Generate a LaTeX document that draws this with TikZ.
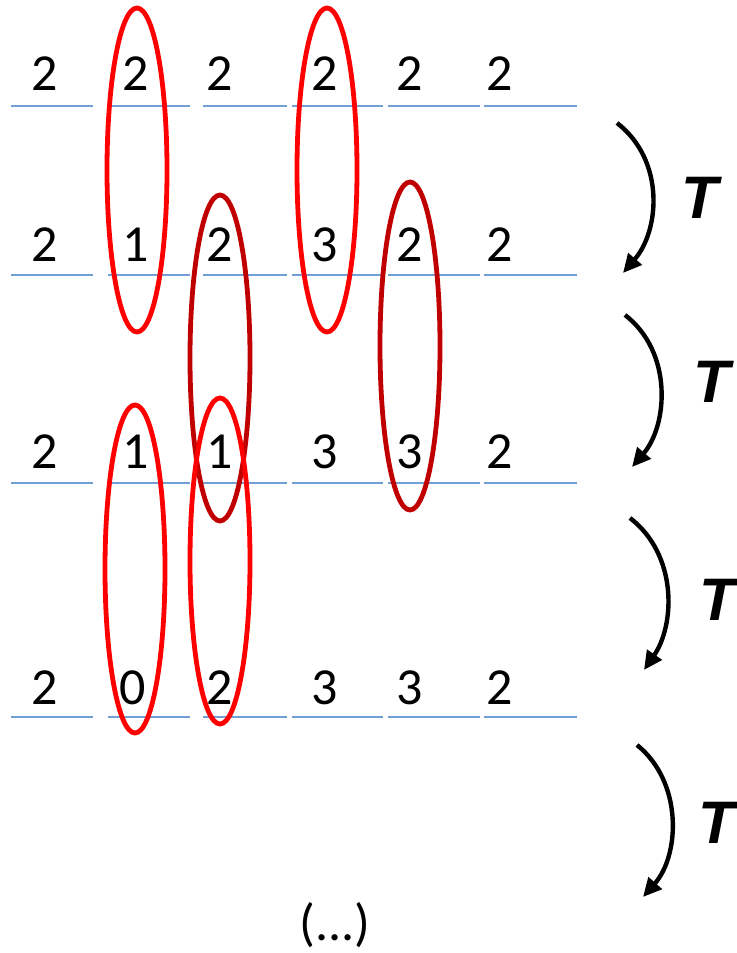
\documentclass[tikz,border=0pt]{standalone}
\usepackage{fontspec}
\setmainfont{Carlito}
\newfontfamily\tfont{Liberation Sans}
\usetikzlibrary{arrows.meta}
\definecolor{brightred}{RGB}{255,0,0}
\definecolor{darkred}{RGB}{192,0,0}
\definecolor{lineblue}{RGB}{115,160,212}
\tikzset{
  num/.style={inner sep=0pt, font=\fontsize{39}{41}\selectfont},
  tlabel/.style={inner sep=0pt, font=\tfont\fontsize{45}{47}\selectfont\bfseries\itshape},
  baseline/.style={draw=lineblue, line width=1.4pt},
  ringA/.style={draw=brightred, line width=3.6pt},
  ringB/.style={draw=darkred, line width=3.6pt},
  tarrow/.style={draw=black, line width=3.3pt, -{Triangle[length=14pt,width=13pt]}}
}
\begin{document}
\begin{tikzpicture}[x=0.75pt,y=-0.75pt]
\useasboundingbox (0,0) rectangle (736,953);
% rows of numbers
\foreach \r/\y/\a/\b/\c/\d/\e/\f/\bx in {1/74/2/2/2/2/2/2/136, 2/245/2/1/2/3/2/2/136, 3/452/2/1/1/3/3/2/136, 4/688/2/0/2/3/3/2/133}{
  \node[num] (n\r a) at (45,\y) {\a};
  \node[num] (n\r b) at (\bx,\y) {\b};
  \node[num] (n\r c) at (220,\y) {\c};
  \node[num] (n\r d) at (325,\y) {\d};
  \node[num] (n\r e) at (410,\y) {\e};
  \node[num] (n\r f) at (500,\y) {\f};
}
% base lines
\foreach \ly in {106,275,483,717}{
  \foreach \xa/\xb in {11/93,108/190,203/287,292/383,388/480,484/577}{
    \draw[baseline] (\xa,\ly) -- (\xb,\ly);
  }
}
% ellipses
\draw[ringB] (220,358) ellipse [x radius=30, y radius=163];
\draw[ringB] (410,346) ellipse [x radius=30, y radius=164];
\draw[ringA] (137,170) ellipse [x radius=30, y radius=162];
\draw[ringA] (327,170) ellipse [x radius=30, y radius=162];
\draw[ringA] (135,569) ellipse [x radius=30, y radius=164];
\draw[ringA] (220,561) ellipse [x radius=30, y radius=163];
% arrows
\coordinate (s1) at (617,123); \coordinate (e1) at (623,273);
\coordinate (s2) at (625,315); \coordinate (e2) at (632,467);
\coordinate (s3) at (630,518); \coordinate (e3) at (644,670);
\coordinate (s4) at (637,745); \coordinate (e4) at (643,897);
\draw[tarrow] (s1) .. controls (665,160) and (660,230) .. (e1);
\draw[tarrow] (s2) .. controls (673,352) and (668,425) .. (e2);
\draw[tarrow] (s3) .. controls (678,555) and (675,625) .. (e3);
\draw[tarrow] (s4) .. controls (683,782) and (680,855) .. (e4);
\node[tlabel] (t1) at (700,198) {T};
\node[tlabel] (t2) at (712,382) {T};
\node[tlabel] (t3) at (718,600) {T};
\node[tlabel] (t4) at (717,823) {T};
\node[num] (dots) at (335,925) {(...)};
\end{tikzpicture}
\end{document}
